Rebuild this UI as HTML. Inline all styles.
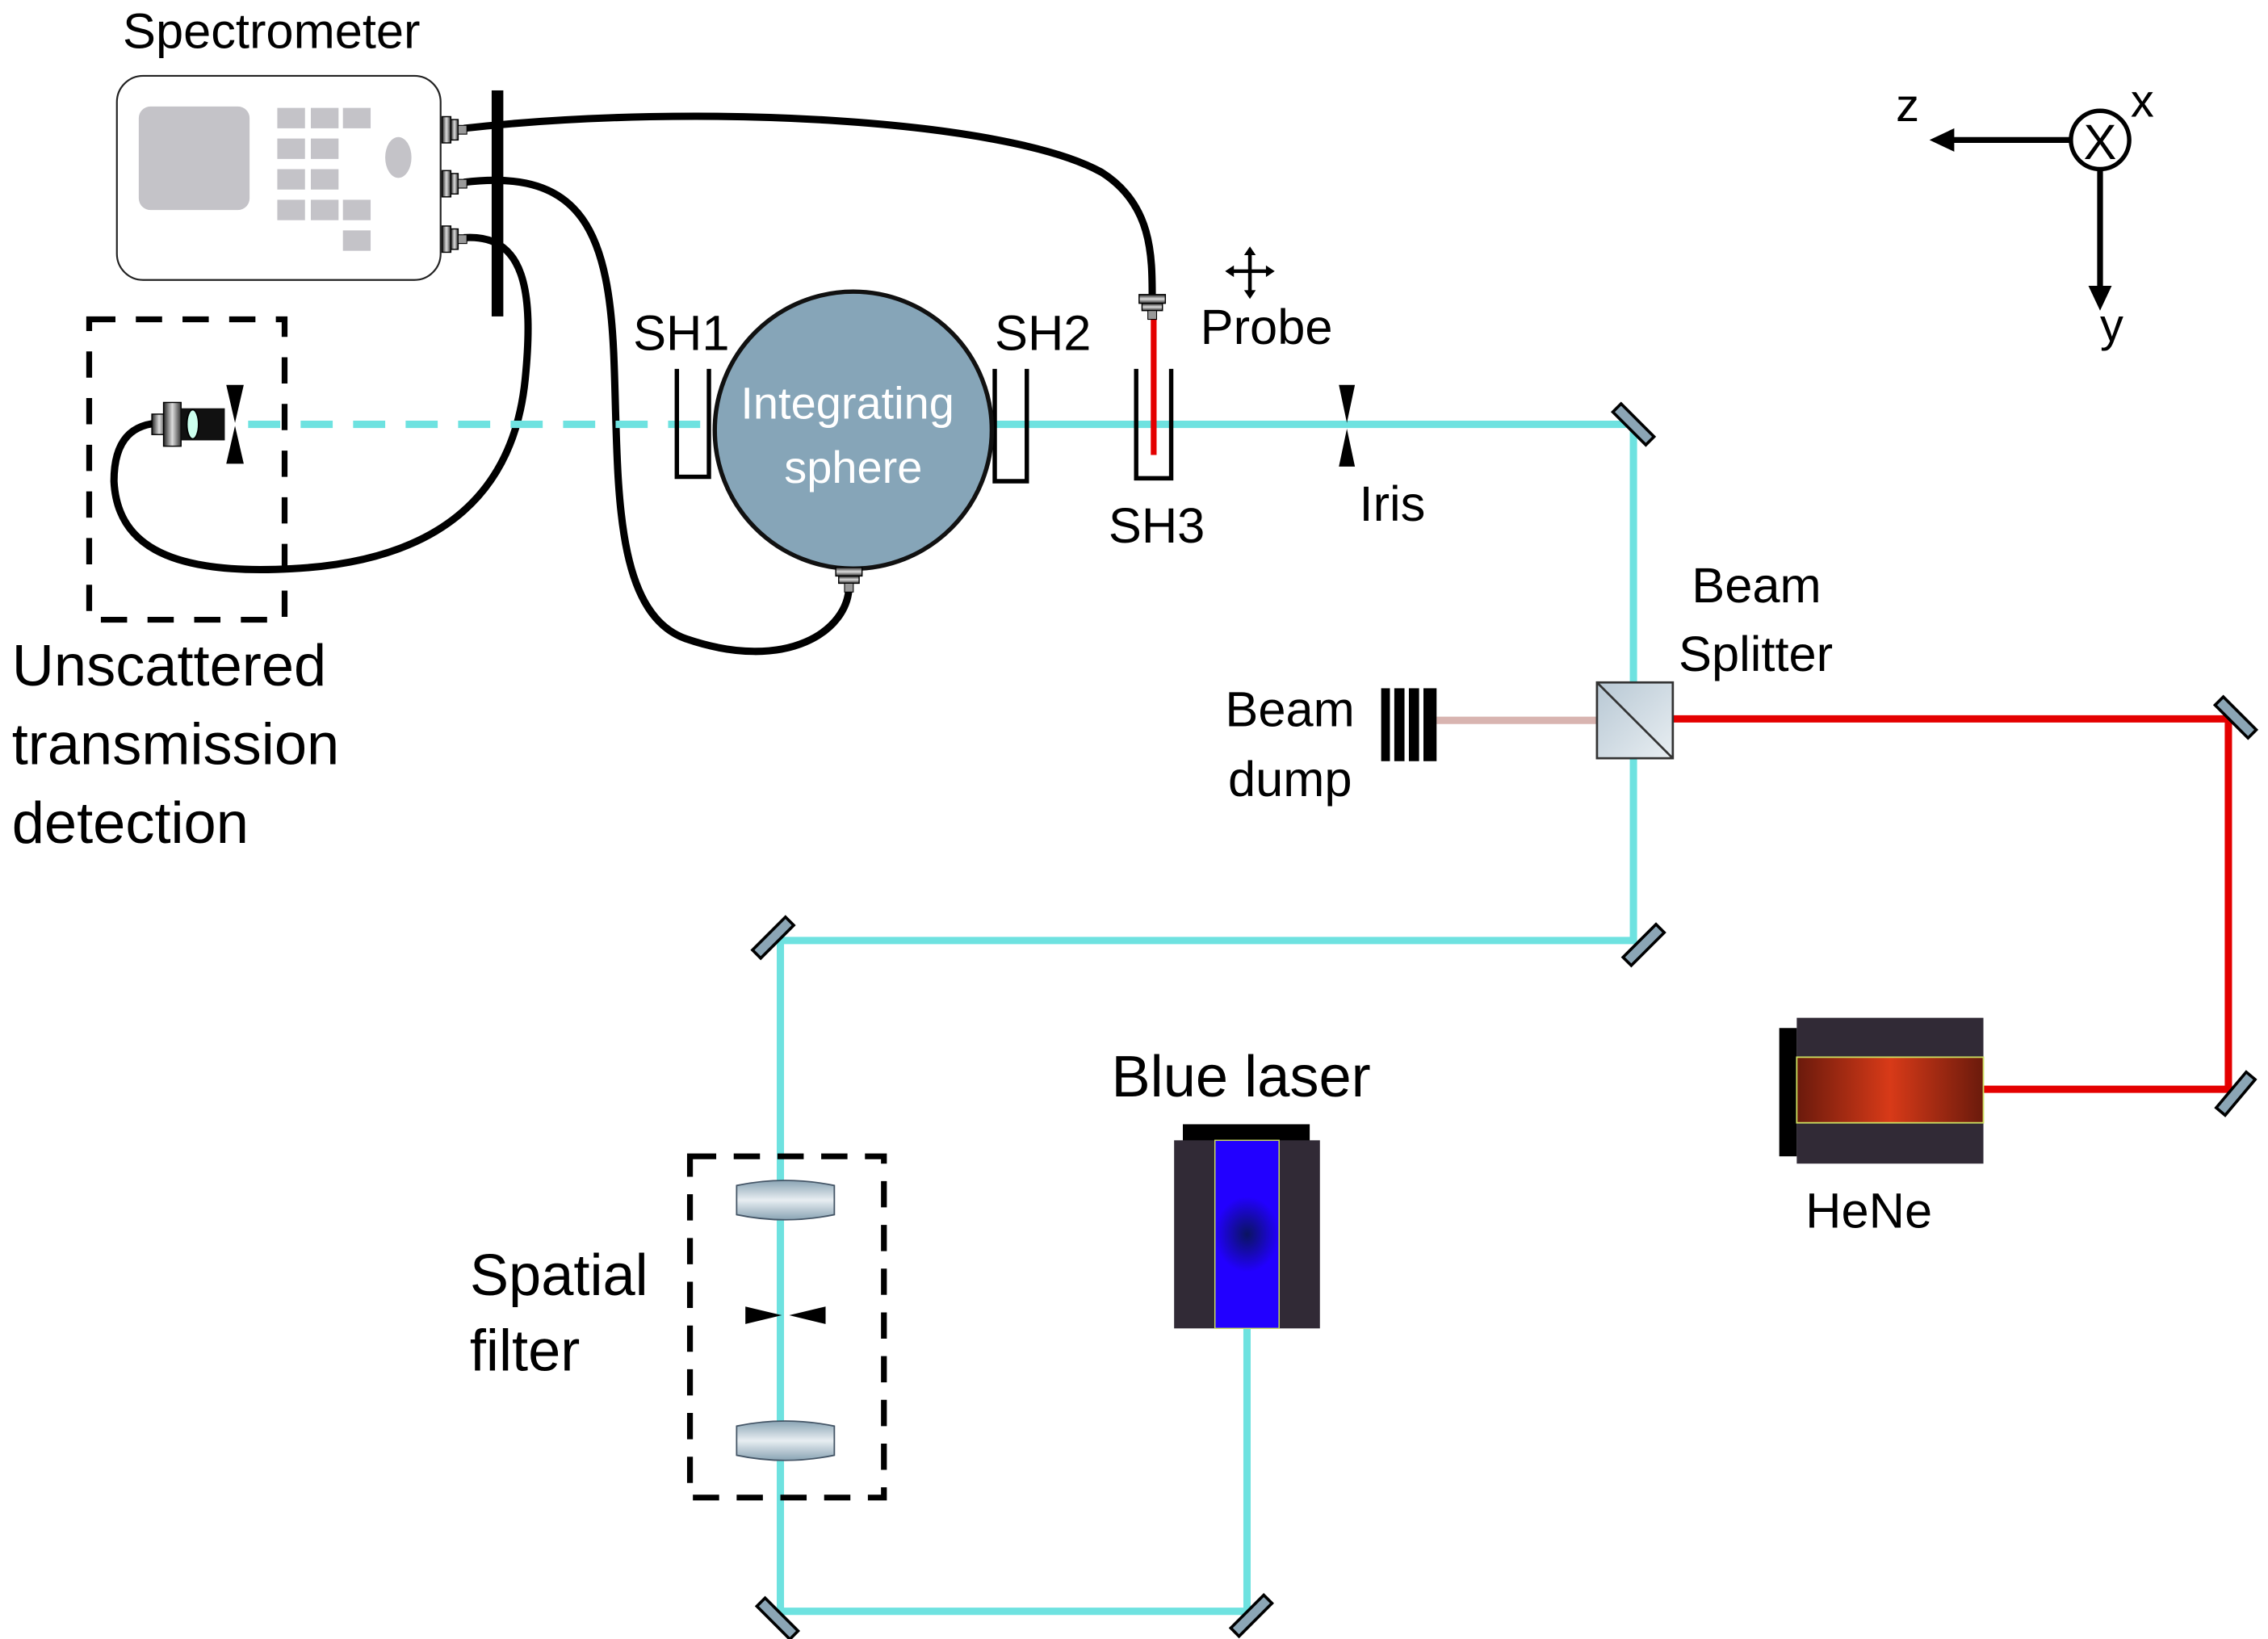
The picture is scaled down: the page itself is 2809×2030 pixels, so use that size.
<!DOCTYPE html>
<html><head><meta charset="utf-8"><style>
html,body{margin:0;padding:0;background:#fff;}
svg{display:block;}
text{font-family:"Liberation Sans",sans-serif;fill:#000;}
</style></head><body>
<svg width="2809" height="2030" viewBox="0 0 1555 1124" xmlns="http://www.w3.org/2000/svg">
<defs>
<linearGradient id="hene" x1="0" x2="1" y1="0" y2="0">
<stop offset="0" stop-color="#6a1a0c"/><stop offset="0.5" stop-color="#d83a18"/><stop offset="1" stop-color="#6a1a0c"/></linearGradient>
<radialGradient id="blue" cx="0.5" cy="0.5" r="0.5" gradientTransform="translate(0.5 0.5) scale(1 0.4) translate(-0.5 -0.5)">
<stop offset="0" stop-color="#0a1460"/><stop offset="1" stop-color="#2200ff"/></radialGradient>
<linearGradient id="conn" x1="0" x2="1"><stop offset="0" stop-color="#222"/><stop offset="0.5" stop-color="#ddd"/><stop offset="1" stop-color="#333"/></linearGradient>
<linearGradient id="bs" x1="0" y1="0" x2="1" y2="1"><stop offset="0" stop-color="#b8c8d4"/><stop offset="1" stop-color="#e8eef2"/></linearGradient>
<linearGradient id="lens" x1="0" y1="0" x2="0" y2="1"><stop offset="0" stop-color="#8aa4b4"/><stop offset="0.5" stop-color="#e8eef2"/><stop offset="1" stop-color="#8aa4b4"/></linearGradient>
<g id="mirror"><rect x="-16" y="-4" width="32" height="8" fill="#8ba5b5" stroke="#000" stroke-width="2"/></g>
<g id="cn"><rect x="-7" y="-9" width="6" height="18" fill="url(#conn)" stroke="#000" stroke-width="0.8"/><rect x="-1" y="-7" width="5" height="14" fill="url(#conn)" stroke="#000" stroke-width="0.8"/><rect x="4" y="-3" width="6" height="6" fill="#999" stroke="#000" stroke-width="0.6"/></g>
</defs>

<!-- Spectrometer -->
<text x="84" y="33" font-size="34">Spectrometer</text>
<rect x="80" y="52" width="222" height="140" rx="18" fill="#fff" stroke="#222" stroke-width="1.2"/>
<rect x="95" y="73" width="76" height="71" rx="8" fill="#c4c3c8"/>
<g fill="#c4c3c8">
<rect x="190" y="74" width="19" height="14"/><rect x="213" y="74" width="19" height="14"/><rect x="235" y="74" width="19" height="14"/>
<rect x="190" y="95" width="19" height="14"/><rect x="213" y="95" width="19" height="14"/>
<rect x="190" y="116" width="19" height="14"/><rect x="213" y="116" width="19" height="14"/>
<rect x="190" y="137" width="19" height="14"/><rect x="213" y="137" width="19" height="14"/><rect x="235" y="137" width="19" height="14"/>
<rect x="235" y="158" width="19" height="14"/>
<ellipse cx="273" cy="108" rx="9" ry="14"/>
</g>

<!-- fibers -->
<g fill="none" stroke="#000" stroke-width="5">
<path d="M318,88 C480,70 690,82 755,118 C790,140 790,175 790,205"/>
<path d="M318,125 C400,115 418,160 421,250 C424,330 420,420 470,438 C540,462 582,432 582,402"/>
<path d="M318,163 C360,160 366,200 360,260 C352,340 300,385 200,390 C110,395 80,370 78,330 C78,300 92,290 112,290"/>
</g>
<use href="#cn" x="310" y="89"/><use href="#cn" x="310" y="126"/><use href="#cn" x="310" y="164"/>
<rect x="337" y="62" width="8" height="155" fill="#000"/>

<!-- unscattered box -->
<rect x="61" y="219" width="134" height="206" fill="none" stroke="#000" stroke-width="4" stroke-dasharray="18,14"/>
<line x1="170" y1="291" x2="487" y2="291" stroke="#6ee2e0" stroke-width="5" stroke-dasharray="22,14"/>
<rect x="104" y="284" width="10" height="14" fill="url(#conn)" stroke="#000" stroke-width="0.8"/>
<rect x="112" y="276" width="12" height="30" fill="url(#conn)" stroke="#000" stroke-width="0.8"/>
<rect x="124" y="280" width="30" height="22" fill="#111"/>
<ellipse cx="132" cy="291" rx="4" ry="10" fill="#cfe" stroke="#000"/>
<polygon points="155,264 167,264 161,290" fill="#000"/><polygon points="155,318 167,318 161,292" fill="#000"/>

<!-- beams cyan -->
<polyline points="680,291 1120,291 1120,645 535,645 535,1105 855,1105 855,911" fill="none" stroke="#6ee2e0" stroke-width="5"/>
<!-- red -->
<polyline points="1147,493 1528,493 1528,747 1360,747" fill="none" stroke="#e40000" stroke-width="5"/>
<line x1="985" y1="494" x2="1095" y2="494" stroke="#d8b4b0" stroke-width="5"/>

<!-- shutters -->
<g fill="none" stroke="#000" stroke-width="3">
<path d="M464,253 V327 H486 V253"/>
<path d="M682,253 V330 H704 V253"/>
<path d="M779,253 V328 H803 V253"/>
</g>
<line x1="791" y1="212" x2="791" y2="312" stroke="#e40000" stroke-width="4"/>
<use href="#cn" x="790" y="209" transform="rotate(90 790 209)"/>

<!-- sphere -->
<circle cx="585" cy="295" r="95" fill="#86a5b8" stroke="#111" stroke-width="3"/>
<text x="581" y="287" font-size="31" fill="#fff" text-anchor="middle" style="fill:#fff">Integrating</text>
<text x="585" y="331" font-size="31" text-anchor="middle" style="fill:#fff">sphere</text>
<use href="#cn" x="582" y="396" transform="rotate(90 582 396)"/>

<!-- iris -->
<polygon points="918,264 929,264 923.5,290" fill="#000"/><polygon points="918,320 929,320 923.5,294" fill="#000"/>

<!-- mirrors -->
<use href="#mirror" transform="translate(1120,291) rotate(45)"/>
<use href="#mirror" transform="translate(1127,648) rotate(-45)"/>
<use href="#mirror" transform="translate(530,643) rotate(-45)"/>
<use href="#mirror" transform="translate(533,1110) rotate(45)"/>
<use href="#mirror" transform="translate(858,1108) rotate(-45)"/>
<use href="#mirror" transform="translate(1533,492) rotate(45)"/>
<use href="#mirror" transform="translate(1533,750) rotate(-50)"/>

<!-- beam splitter -->
<rect x="1095" y="468" width="52" height="52" fill="url(#bs)" stroke="#333" stroke-width="1.5"/>
<line x1="1095" y1="468" x2="1147" y2="520" stroke="#333" stroke-width="1.5"/>

<!-- beam dump -->
<g fill="#000"><rect x="947" y="472" width="6" height="50"/><rect x="956" y="472" width="7" height="50"/><rect x="966" y="472" width="7" height="50"/><rect x="976" y="472" width="9" height="50"/></g>

<!-- HeNe -->
<rect x="1220" y="705" width="12" height="88" fill="#000"/>
<rect x="1232" y="698" width="128" height="100" fill="#312a36"/>
<rect x="1232" y="725" width="128" height="45" fill="url(#hene)" stroke="#cde060" stroke-width="1"/>

<!-- Blue laser -->
<rect x="811" y="771" width="87" height="12" fill="#000"/>
<rect x="805" y="782" width="100" height="129" fill="#312a36"/>
<rect x="833" y="782" width="44" height="129" fill="url(#blue)" stroke="#cde060" stroke-width="0.8"/>

<!-- spatial filter -->
<rect x="473" y="793" width="133" height="234" fill="none" stroke="#000" stroke-width="4" stroke-dasharray="18,12"/>
<path d="M505,813 Q538,806 572,813 V833 Q538,840 505,833 Z" fill="url(#lens)" stroke="#456" stroke-width="1"/>
<path d="M505,978 Q538,971 572,978 V998 Q538,1005 505,998 Z" fill="url(#lens)" stroke="#456" stroke-width="1"/>
<polygon points="511,896 511,908 536,902" fill="#000"/><polygon points="566,896 566,908 541,902" fill="#000"/>

<!-- axes -->
<line x1="1420" y1="96" x2="1338" y2="96" stroke="#000" stroke-width="4"/>
<polygon points="1323,96 1340,88 1340,104" fill="#000"/>
<circle cx="1440" cy="96" r="20" fill="#fff" stroke="#000" stroke-width="3"/>
<text x="1440" y="109" font-size="34" text-anchor="middle">X</text>
<line x1="1440" y1="116" x2="1440" y2="198" stroke="#000" stroke-width="4"/>
<polygon points="1440,213 1432,196 1448,196" fill="#000"/>
<text x="1300" y="83" font-size="32">z</text>
<text x="1461" y="80" font-size="32">x</text>
<text x="1440" y="234" font-size="32">y</text>

<!-- probe move icon -->
<g stroke="#000" stroke-width="2.5"><line x1="843" y1="186" x2="871" y2="186"/><line x1="857" y1="172" x2="857" y2="202"/></g>
<g fill="#000"><polygon points="840,186 846,182 846,190"/><polygon points="874,186 868,182 868,190"/><polygon points="857,169 853,175 861,175"/><polygon points="857,205 853,199 861,199"/></g>

<!-- labels -->
<g font-size="34">
<text x="434" y="240">SH1</text>
<text x="682" y="240">SH2</text>
<text x="760" y="372">SH3</text>
<text x="823" y="236">Probe</text>
<text x="932" y="357">Iris</text>
<text x="1160" y="413">Beam</text>
<text x="1151" y="460">Splitter</text>
<text x="840" y="498">Beam</text>
<text x="842" y="546">dump</text>
<text x="1238" y="842">HeNe</text>
</g>
<g font-size="40">
<text x="8" y="470">Unscattered</text>
<text x="8" y="524">transmission</text>
<text x="8" y="578">detection</text>
<text x="762" y="752">Blue laser</text>
<text x="322" y="888">Spatial</text>
<text x="322" y="940">filter</text>
</g>
</svg>
</body></html>
